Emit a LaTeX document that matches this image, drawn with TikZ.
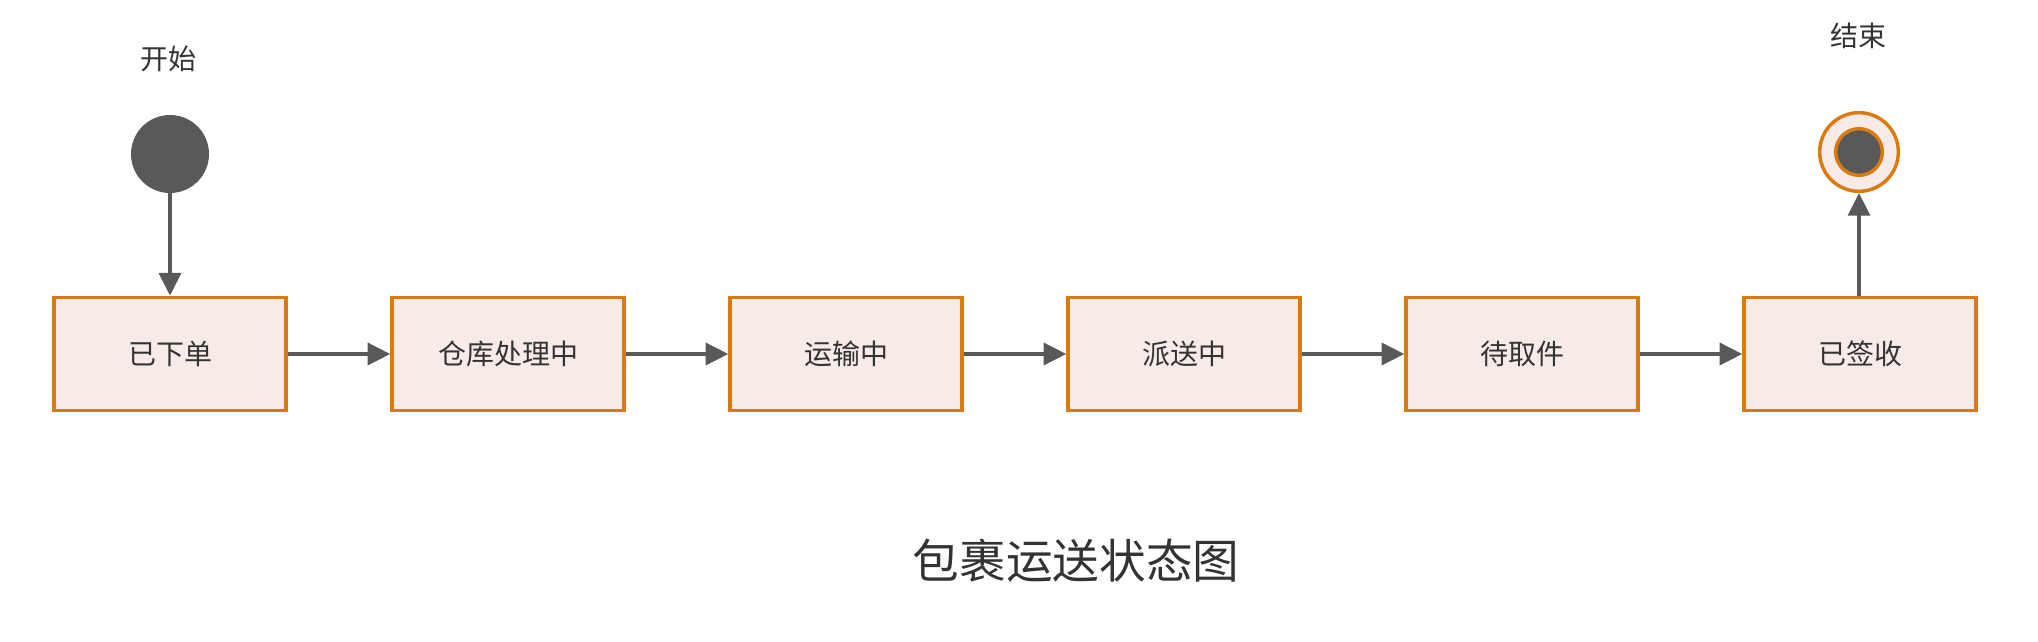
\documentclass[tikz,border=0pt]{standalone}
\usepackage{fontspec}
\setmainfont{Noto Sans CJK SC}
\usetikzlibrary{arrows.meta}
\definecolor{borange}{HTML}{DA7B12}
\definecolor{bfill}{HTML}{F6EBE6}
\definecolor{dgray}{HTML}{595959}
\definecolor{tgray}{HTML}{333333}
\begin{document}
\begin{tikzpicture}[x=0.75pt,y=-0.75pt,
  statebox/.style={rectangle,draw=borange,fill=bfill,line width=2.6pt,
    minimum width=174pt,minimum height=85pt,inner sep=0pt,
    font=\fontsize{21pt}{25pt}\selectfont,text=tgray},
  lbl/.style={font=\fontsize{21pt}{25pt}\selectfont,text=tgray,inner sep=0pt},
  conn/.style={draw=dgray,line width=2.6pt,-{Triangle[length=17pt,width=16.5pt]}}]
\useasboundingbox (0,0) rectangle (2038,642);
\fill[white] (0,0) rectangle (2038,642);
% start / end
\node[circle,fill=dgray,minimum size=58.5pt,inner sep=0pt] (start) at (170,154) {};
\node[lbl] (startlbl) at (168,59) {开始};
\node[circle,draw=borange,fill=bfill,line width=2.6pt,minimum size=59pt,inner sep=0pt] (endo) at (1859,152) {};
\node[circle,draw=borange,fill=dgray,line width=2.6pt,minimum size=35pt,inner sep=0pt] (endi) at (1859,152) {};
\node[lbl] (endlbl) at (1858,36) {结束};
% states
\node[statebox] (s1) at (170,354) {已下单};
\node[statebox] (s2) at (508,354) {仓库处理中};
\node[statebox] (s3) at (846,354) {运输中};
\node[statebox] (s4) at (1184,354) {派送中};
\node[statebox] (s5) at (1522,354) {待取件};
\node[statebox] (s6) at (1860,354) {已签收};
% connectors
\draw[conn] (start) -- (s1);
\draw[conn] (s1) -- (s2);
\draw[conn] (s2) -- (s3);
\draw[conn] (s3) -- (s4);
\draw[conn] (s4) -- (s5);
\draw[conn] (s5) -- (s6);
\draw[conn] (s6.north -| endo) -- (endo);
% title
\node[font=\fontsize{35pt}{40pt}\selectfont,text=tgray,inner sep=0pt] (title) at (1076,561) {包裹运送状态图};
\end{tikzpicture}
\end{document}
